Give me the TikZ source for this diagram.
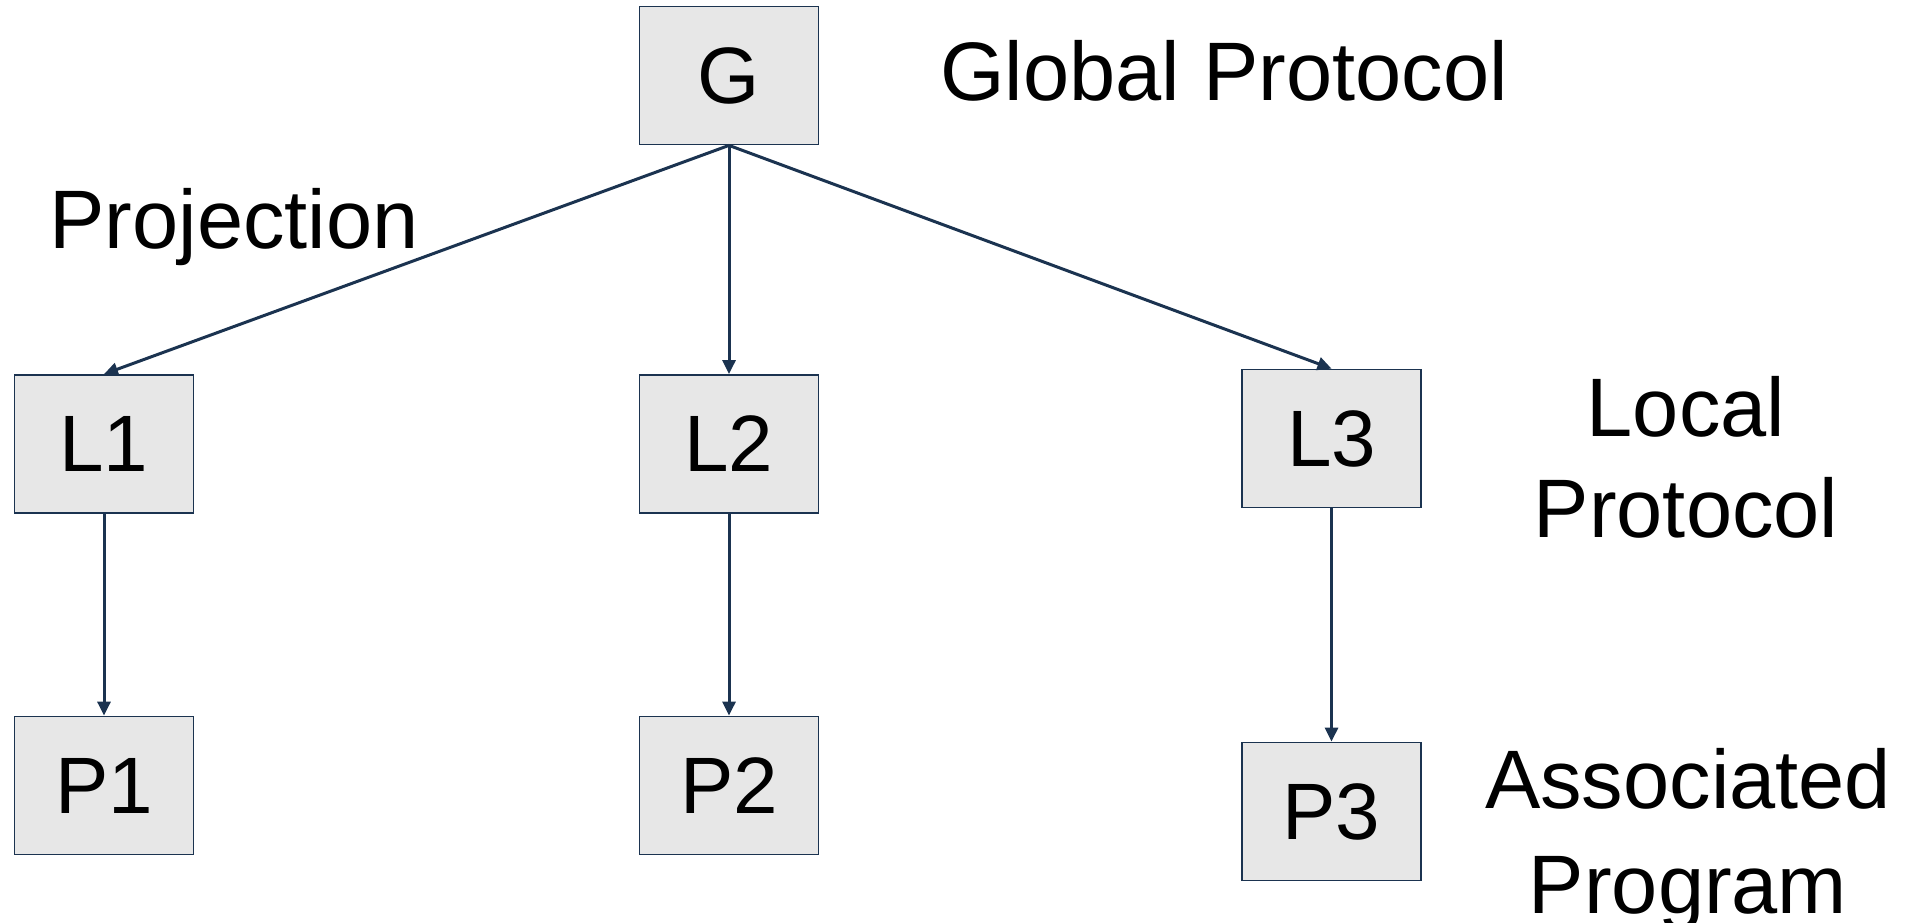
\documentclass[tikz,border=0pt]{standalone}
\usepackage{fontspec}
\setmainfont{Liberation Sans}
\usetikzlibrary{arrows.meta}
\definecolor{boxgray}{HTML}{E7E7E7}
\definecolor{edge}{HTML}{1B3350}
\begin{document}
\begin{tikzpicture}[x=1pt,y=-1pt,
  box/.style={draw=edge,line width=1.8pt,fill=boxgray,inner sep=0pt,
    minimum width=179pt,minimum height=138pt,
    font=\fontsize{80}{82}\selectfont},
  lbl/.style={inner sep=0pt,anchor=base,font=\fontsize{83}{86}\selectfont},
  conn/.style={draw=edge,line width=3pt,-{Triangle[length=14pt,width=13pt]}}]
\useasboundingbox (0,0) rectangle (1921,923);
\node[box] (G)  at (729,75.5) {G};
\node[box] (L1) at (104,444) {L1};
\node[box] (L2) at (729,444) {L2};
\node[box] (L3) at (1331.5,438.5) {L3};
\node[box] (P1) at (104,785.5) {P1};
\node[box] (P2) at (729,785.5) {P2};
\node[box] (P3) at (1331.5,811.5) {P3};
\node[lbl] (gp) at (1224,101) {Global Protocol};
\node[lbl] (pr) at (234,248) {Projection};
\node[lbl] (lp1) at (1686,436) {Local};
\node[lbl] (lp2) at (1686,537) {Protocol};
\node[lbl] (ap1) at (1688,808) {Associated};
\node[lbl] (ap2) at (1688,913) {Program};
\draw[conn] (G.south) -- (L1.north);
\draw[conn] (G.south) -- (L2.north);
\draw[conn] (G.south) -- (L3.north);
\draw[conn] (L1.south) -- (P1.north);
\draw[conn] (L2.south) -- (P2.north);
\draw[conn] (L3.south) -- (P3.north);
\end{tikzpicture}
\end{document}
